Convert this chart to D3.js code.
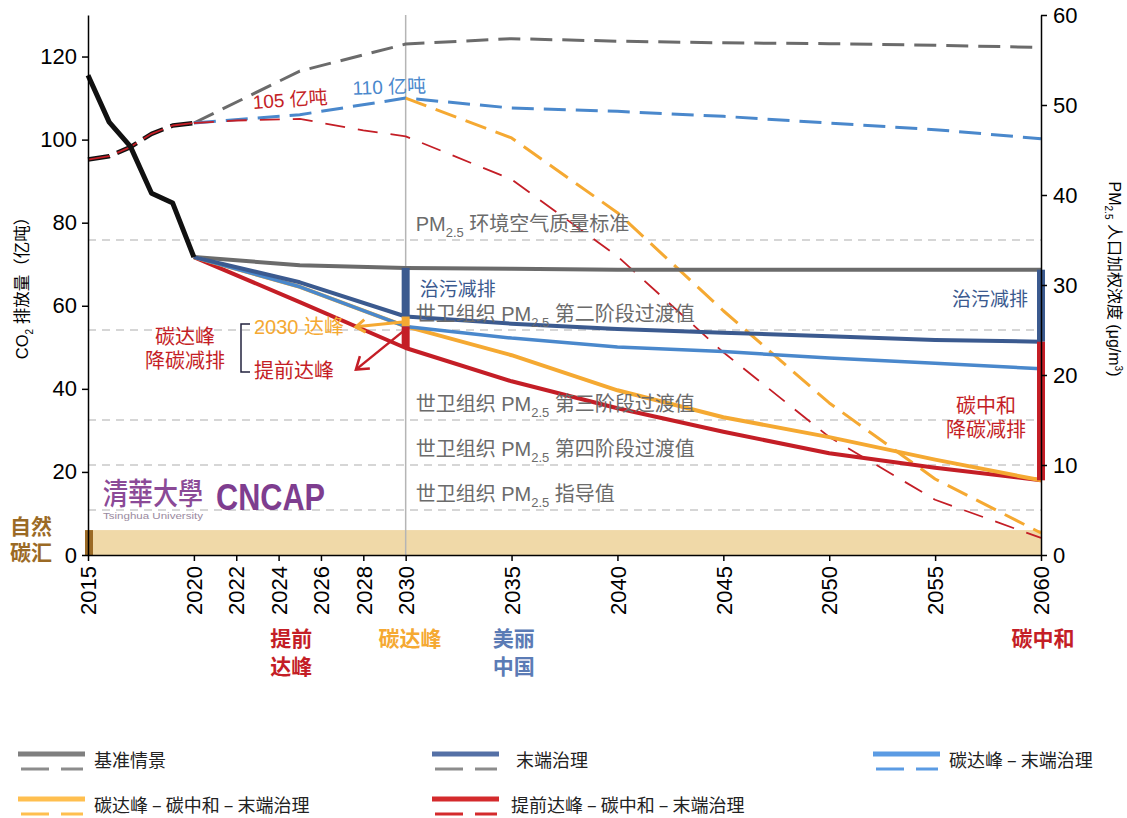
<!DOCTYPE html>
<html>
<head>
<meta charset="utf-8">
<script src="https://cdn.jsdelivr.net/npm/d3@7"></script>
<style>
  html, body { margin: 0; padding: 0; background: #fff; }
  svg { display: block; }
</style>
</head>
<body>
<svg id="chart" width="1127" height="818"></svg>
<script>
// ---- Data ----------------------------------------------------------------
// Historical years (PM2.5 population-weighted concentration, CO2 emissions)
const histYears = [2015, 2016, 2017, 2018, 2019, 2020];
const pmHistory = [53.3, 48.1, 45.4, 40.2, 39.1, 33.1];          // μg/m3
const co2History = [95.2, 96.0, 98.2, 101.4, 103.4, 104.0];      // 亿吨

// Scenario projections, PM2.5 (solid lines, right axis)
const projYears = [2020, 2025, 2030, 2035, 2040, 2045, 2050, 2055, 2060];
const pmBaseline   = [33.1, 32.2, 31.9, 31.8, 31.7, 31.7, 31.7, 31.7, 31.7];
const pmEndOfPipe  = [33.1, 30.3, 26.5, 25.7, 25.1, 24.7, 24.3, 23.9, 23.7];
const pmPeakEoP    = [33.1, 29.8, 25.4, 24.1, 23.1, 22.6, 21.9, 21.3, 20.7];
const pmNeutralEoP = [33.1, 29.8, 25.4, 22.2, 18.3, 15.3, 13.1, 10.6, 8.3];
const pmEarlyPeak  = [33.1, 28.1, 23.0, 19.3, 16.3, 13.7, 11.3, 9.7, 8.3];

// Scenario projections, CO2 (dashed lines, left axis)
const co2Baseline = [104.0, 116.5, 123.0, 124.3, 123.7, 123.3, 123.1, 122.7, 122.2];
const co2PeakEoP  = [104.0, 106.0, 110.0, 107.6, 106.8, 105.6, 104.0, 102.4, 100.2];
const neutralYears = [2030, 2035, 2040, 2045, 2050, 2055, 2060];
const co2Neutral   = [110.0, 100.4, 82.4, 58.8, 36.6, 18.3, 5.3];
const earlyYears = [2020, 2022, 2025, 2028, 2030, 2035, 2040, 2045, 2050, 2055, 2060];
const co2Early   = [104.0, 104.6, 105.0, 102.2, 100.8, 90.4, 71.9, 48.8, 28.4, 13.3, 4.1];

// Natural carbon sink (亿吨)
const naturalSink = 6;

// PM2.5 reference levels (μg/m3) and their labels
const pmLevels = [35, 25, 15, 10, 5];
const pmLevelPrefix = ["", "世卫组织 ", "世卫组织 ", "世卫组织 ", "世卫组织 "];
const pmLevelSuffix = [" 环境空气质量标准", " 第二阶段过渡值", " 第三阶段过渡值", " 第四阶段过渡值", " 指导值"];

// Axis ticks
const xTicks = [2015, 2020, 2022, 2024, 2026, 2028, 2030, 2035, 2040, 2045, 2050, 2055, 2060];
const co2Ticks = [0, 20, 40, 60, 80, 100, 120];
const pmTicks = [0, 10, 20, 30, 40, 50, 60];

// Legend
const legendLabels = ["基准情景", "\u00a0\u00a0末端治理", "碳达峰 – 末端治理", "碳达峰 – 碳中和 – 末端治理", "提前达峰 – 碳中和 – 末端治理"];
const legendSolid = ["#7f7f7f", "#5470a6", "#5b9be3", "#ffbf4f", "#d42a2c"];
const legendDash  = ["#8c8c8c", "#8c8c8c", "#5b9be3", "#ffbf4f", "#d42a2c"];

// ---- Setup ---------------------------------------------------------------
const FONT = '"Liberation Sans", "Noto Sans CJK SC", sans-serif';
const CJK = '"Noto Sans CJK SC", sans-serif';
const C = {
  gray: "#6b6b6b", navy: "#3b5a8f", blue: "#4a88cc", orange: "#f5a932",
  red: "#c41e26", black: "#111111", text: "#6b6b6b", sinkFill: "#f0d9a8", sinkDark: "#9b6a25"
};

const svg = d3.select("#chart").style("font-family", FONT);
const x = d3.scaleLinear().domain([2015, 2060]).range([88, 1041]);
const yCO2 = d3.scaleLinear().domain([0, 130]).range([555, 15]);
const yPM = d3.scaleLinear().domain([0, 60]).range([555, 15]);

const zip = (xs, ys) => xs.map((d, i) => [d, ys[i]]);
const lineCO2 = d3.line().x(d => x(d[0])).y(d => yCO2(d[1]));
const linePM = d3.line().x(d => x(d[0])).y(d => yPM(d[1]));

function drawPath(gen, pts, color, width, dash) {
  return svg.append("path")
    .attr("d", gen(pts))
    .attr("fill", "none")
    .attr("stroke", color)
    .attr("stroke-width", width)
    .attr("stroke-dasharray", dash || null)
    .attr("stroke-linejoin", "round");
}

// Text with a "PM2.5"-style subscript
function subText(t, before, sub, after, size, subSize) {
  if (before) t.append("tspan").text(before);
  t.append("tspan").attr("font-size", subSize).attr("dy", size * 0.28).text(sub);
  t.append("tspan").attr("dy", -size * 0.28).text(after);
  return t;
}

// Multi-line centred label in one text element
function multiLine(cx, y0, lines, lh, attrs) {
  const t = svg.append("text").attr("text-anchor", "middle");
  Object.entries(attrs).forEach(([k, v]) => t.attr(k, v));
  lines.forEach((s, i) => t.append("tspan").attr("x", cx).attr("y", y0 + i * lh).text(s));
  return t;
}

// ---- Background: sink band, reference levels, 2030 marker ----------------
svg.append("rect")
  .attr("x", x(2015)).attr("width", x(2060) - x(2015))
  .attr("y", yCO2(naturalSink)).attr("height", yCO2(0) - yCO2(naturalSink))
  .attr("fill", C.sinkFill);
svg.append("rect")
  .attr("x", x(2015) - 3).attr("width", 8)
  .attr("y", yCO2(naturalSink)).attr("height", yCO2(0) - yCO2(naturalSink))
  .attr("fill", C.sinkDark);

svg.selectAll("line.level").data(pmLevels).join("line")
  .attr("class", "level")
  .attr("x1", x(2015)).attr("x2", x(2060))
  .attr("y1", d => yPM(d)).attr("y2", d => yPM(d))
  .attr("stroke", "#c9c9c9").attr("stroke-width", 1.5)
  .attr("stroke-dasharray", "8,6");

svg.append("line")
  .attr("x1", x(2030)).attr("x2", x(2030))
  .attr("y1", yPM(60)).attr("y2", yPM(0))
  .attr("stroke", "#b5b5b5").attr("stroke-width", 1.5);

// ---- CO2 dashed lines ----------------------------------------------------
drawPath(lineCO2, zip(projYears, co2Baseline), C.gray, 3, "22,10");
drawPath(lineCO2, zip(projYears, co2PeakEoP), C.blue, 3, "22,10");
drawPath(lineCO2, zip(neutralYears, co2Neutral), C.orange, 3, "22,10");
drawPath(lineCO2, zip(earlyYears, co2Early), C.red, 1.8, "20,13");
drawPath(lineCO2, zip(histYears, co2History), C.black, 4.5, "22,8");
drawPath(lineCO2, zip(histYears, co2History), C.red, 1.8, "22,8");

// ---- PM2.5 solid lines ---------------------------------------------------
drawPath(linePM, zip(projYears, pmBaseline), C.gray, 4);
drawPath(linePM, zip(projYears, pmEarlyPeak), C.red, 4);
drawPath(linePM, zip(projYears, pmNeutralEoP), C.orange, 4);
drawPath(linePM, zip(projYears, pmPeakEoP), C.blue, 3.5);
drawPath(linePM, zip(projYears, pmEndOfPipe), C.navy, 4);
drawPath(linePM, zip(histYears, pmHistory), C.black, 5);

// ---- Reduction bars at 2030 and 2060 --------------------------------------
const i30 = projYears.indexOf(2030), i60 = projYears.indexOf(2060);
const bars = [
  { yr: 2030, a: pmBaseline[i30], b: pmEndOfPipe[i30], c: C.navy },
  { yr: 2030, a: pmEndOfPipe[i30], b: pmPeakEoP[i30], c: C.orange },
  { yr: 2030, a: pmPeakEoP[i30], b: pmEarlyPeak[i30], c: C.red },
  { yr: 2060, a: pmBaseline[i60], b: pmEndOfPipe[i60], c: C.navy },
  { yr: 2060, a: pmEndOfPipe[i60], b: pmNeutralEoP[i60], c: C.red }
];
svg.selectAll("rect.bar").data(bars).join("rect")
  .attr("class", "bar")
  .attr("x", d => x(d.yr) - 4).attr("width", 8)
  .attr("y", d => yPM(d.a)).attr("height", d => yPM(d.b) - yPM(d.a))
  .attr("fill", d => d.c);

// ---- Arrows --------------------------------------------------------------
function arrow(x1, y1, x2, y2, color, w, len) {
  svg.append("line").attr("x1", x1).attr("y1", y1).attr("x2", x2).attr("y2", y2)
    .attr("stroke", color).attr("stroke-width", w);
  const ang = Math.atan2(y1 - y2, x1 - x2), spread = 0.6;
  const p = a => [x2 + len * Math.cos(a), y2 + len * Math.sin(a)];
  const [a1, a2] = [p(ang - spread), p(ang + spread)];
  svg.append("path")
    .attr("d", `M${a1[0]},${a1[1]}L${x2},${y2}L${a2[0]},${a2[1]}`)
    .attr("fill", "none").attr("stroke", color).attr("stroke-width", w)
    .attr("stroke-linejoin", "miter");
}
arrow(x(2030) - 3, yPM(25.9), x(2027.65), yPM(25.35), C.orange, 3, 11);
arrow(x(2030) - 2, yPM(24.9), x(2027.65), yPM(20.6), C.red, 2.5, 14);

// ---- Annotations ---------------------------------------------------------
// Reference-level labels
pmLevels.forEach((lv, i) => {
  const t = svg.append("text")
    .attr("x", x(2030) + 10).attr("y", yPM(lv) - 9)
    .attr("font-size", 20).attr("fill", C.text);
  subText(t, pmLevelPrefix[i] + "PM", "2.5", pmLevelSuffix[i], 20, 13);
});

// Peak emission labels
svg.append("text").attr("transform", `translate(${x(2022.8)},${yCO2(107.4)}) rotate(-4)`)
  .attr("font-size", 19).attr("fill", C.red).text("105 亿吨");
svg.append("text").attr("transform", `translate(${x(2027.5)},${yCO2(110.8)}) rotate(-2)`)
  .attr("font-size", 19).attr("fill", C.blue).text("110 亿吨");

svg.append("text").attr("x", x(2030) + 14).attr("y", 296)
  .attr("font-size", 19).attr("fill", C.navy).attr("font-family", CJK).text("治污减排");
svg.append("text").attr("x", x(2060) - 13).attr("y", 306).attr("text-anchor", "end")
  .attr("font-size", 19).attr("fill", C.navy).attr("font-family", CJK).text("治污减排");

const redAttrs = { "font-size": 20, "fill": C.red, "font-family": CJK };
multiLine(986, 413, ["碳中和", "降碳减排"], 24, redAttrs);
multiLine(185, 344, ["碳达峰", "降碳减排"], 24, redAttrs);

svg.append("path").attr("d", "M250,324H241V372H250")
  .attr("fill", "none").attr("stroke", "#23233f").attr("stroke-width", 1.5);
svg.append("text").attr("x", 254).attr("y", 334).attr("font-size", 20)
  .attr("fill", C.orange).text("2030 达峰");
svg.append("text").attr("x", 254).attr("y", 378).attr("font-size", 20)
  .attr("fill", C.red).attr("font-family", CJK).text("提前达峰");

// Natural sink label
multiLine(31, 534, ["自然", "碳汇"], 26,
  { "font-size": 21, "font-weight": "bold", "fill": C.sinkDark, "font-family": CJK });

// Logo
svg.append("text").attr("x", 103).attr("y", 504).attr("font-size", 30)
  .attr("font-family", '"Noto Sans CJK TC", sans-serif').attr("font-weight", 500)
  .attr("fill", "#8b4a97").attr("textLength", 100).attr("lengthAdjust", "spacingAndGlyphs")
  .text("清華大學");
svg.append("text").attr("x", 103).attr("y", 519).attr("font-size", 9)
  .attr("fill", "#9a8aa0").attr("textLength", 100).attr("lengthAdjust", "spacingAndGlyphs")
  .text("Tsinghua University");
svg.append("text").attr("x", 216).attr("y", 510).attr("font-size", 37).attr("font-weight", "bold")
  .attr("fill", "#7e3d8f").attr("textLength", 109).attr("lengthAdjust", "spacingAndGlyphs")
  .text("CNCAP");

// Milestones below the year axis
const milestone = (lines, cx, color) => multiLine(cx, 646, lines, 28,
  { "font-size": 21, "font-weight": "bold", "fill": color, "font-family": CJK });
milestone(["提前", "达峰"], x(2024.6), C.red);
milestone(["碳达峰"], x(2030.2), C.orange);
milestone(["美丽", "中国"], x(2035.1), "#5b7bb5");
milestone(["碳中和"], x(2060.1), C.red);

// ---- Axes ----------------------------------------------------------------
function styleAxis(g) {
  g.attr("font-family", FONT).attr("font-size", 22);
  g.selectAll("path.domain").attr("stroke", "#000").attr("stroke-width", 1.5);
  g.selectAll(".tick line").attr("stroke", "#000").attr("stroke-width", 1.5);
  g.selectAll(".tick text").attr("fill", "#000");
}
const gx = svg.append("g").attr("transform", `translate(0,${yPM(0)})`)
  .call(d3.axisBottom(x).tickValues(xTicks).tickSize(6).tickSizeOuter(0).tickFormat(d3.format("d")));
styleAxis(gx);
gx.selectAll(".tick text")
  .attr("transform", "rotate(-90)").attr("text-anchor", "end")
  .attr("x", -11).attr("y", 0).attr("dy", "0.35em");

const gl = svg.append("g").attr("transform", `translate(${x(2015)},0)`)
  .call(d3.axisLeft(yCO2).tickValues(co2Ticks).tickSize(6).tickPadding(5).tickSizeOuter(0));
styleAxis(gl);

const gr = svg.append("g").attr("transform", `translate(${x(2060)},0)`)
  .call(d3.axisRight(yPM).tickValues(pmTicks).tickSize(6).tickPadding(6).tickSizeOuter(0));
styleAxis(gr);

// Axis titles
const tl = svg.append("text").attr("transform", "translate(28,284) rotate(-90)")
  .attr("text-anchor", "middle").attr("font-size", 16.5).attr("fill", "#000");
subText(tl, "CO", "2", " 排放量（亿吨）", 16.5, 10);

const tr = svg.append("text").attr("transform", "translate(1109,279) rotate(90)")
  .attr("text-anchor", "middle").attr("font-size", 16).attr("fill", "#000");
tr.append("tspan").text("PM");
tr.append("tspan").attr("font-size", 10).attr("dy", 4.5).text("2.5");
tr.append("tspan").attr("dy", -4.5).text(" 人口加权浓度 (μg/m");
tr.append("tspan").attr("font-size", 10).attr("dy", -6).text("3");
tr.append("tspan").attr("dy", 6).text(")");

// ---- Legend --------------------------------------------------------------
const legendPos = [[18, 0], [432, 0], [873, 0], [18, 1], [432, 1]];
legendLabels.forEach((lab, i) => {
  const [lx, row] = legendPos[i];
  const ly = 754 + row * 45;
  svg.append("line").attr("x1", lx).attr("x2", lx + 67).attr("y1", ly).attr("y2", ly)
    .attr("stroke", legendSolid[i]).attr("stroke-width", 5);
  svg.append("line").attr("x1", lx + 3).attr("x2", lx + 65).attr("y1", ly + 15).attr("y2", ly + 15)
    .attr("stroke", legendDash[i]).attr("stroke-width", 3).attr("stroke-dasharray", "28,12");
  svg.append("text").attr("x", lx + (i === 4 ? 79 : 76)).attr("y", ly + 13)
    .attr("font-size", 18).attr("fill", "#222").attr("font-family", CJK).text(lab);
});
</script>
</body>
</html>
